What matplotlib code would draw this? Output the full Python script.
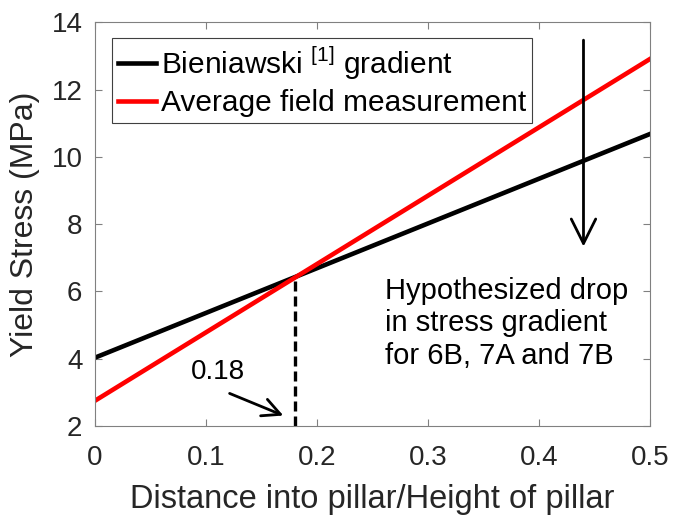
import numpy as np
import matplotlib
matplotlib.use("Agg")
import matplotlib.pyplot as plt

plt.rcParams['font.family'] = ['Liberation Sans', 'DejaVu Sans']
plt.rcParams['mathtext.fontset'] = 'custom'
plt.rcParams['mathtext.rm'] = 'Liberation Sans'

# end points of the two yield stress gradients
x_ends = [0.0, 0.5]
bieniawski = [4.03, 10.68]
field_avg = [2.75, 12.91]
x_cross = 0.18
y_cross = 6.42

fig = plt.figure(figsize=(6.73, 5.17), dpi=100)
ax = fig.add_axes([0.141, 0.176, 0.825, 0.781])

ax.plot(x_ends, bieniawski, color='black', lw=3.3,
        label=r'Bieniawski $^{\mathregular{[1]}}$ gradient')
ax.plot(x_ends, field_avg, color='red', lw=3.3,
        label='Average field measurement')

# dashed drop line at the crossing point
ax.plot([x_cross, x_cross], [2, y_cross], color='black', lw=2.4,
        ls=(0, (3.0, 1.5)))

ax.annotate('', xy=(0.172, 2.28), xytext=(0.119, 3.0),
            arrowprops=dict(arrowstyle='->', lw=2, color='black',
                            mutation_scale=32))
ax.text(0.111, 3.6, '0.18', fontsize=20, ha='center', va='center')

ax.annotate('', xy=(0.44, 7.25), xytext=(0.44, 13.55),
            arrowprops=dict(arrowstyle='->', lw=2, color='black',
                            mutation_scale=44))
ax.text(0.261, 5.05, 'Hypothesized drop\nin stress gradient\nfor 6B, 7A and 7B',
        fontsize=21, ha='left', va='center', linespacing=1.22)

ax.set_xlim(0, 0.5)
ax.set_ylim(2, 14)
ax.set_xticks(np.arange(0, 0.51, 0.1))
ax.set_xticklabels(['0', '0.1', '0.2', '0.3', '0.4', '0.5'])
ax.set_yticks(np.arange(2, 15, 2))
ax.tick_params(direction='in', top=True, right=True, labelsize=20,
               colors='#808080', labelcolor='#262626', length=5)
ax.tick_params(axis='x', pad=14)
ax.tick_params(axis='y', pad=9)
for s in ax.spines.values():
    s.set_color('#808080')
    s.set_linewidth(0.8)

ax.set_xlabel('Distance into pillar/Height of pillar', fontsize=23.5,
              color='#262626', labelpad=9)
ax.set_ylabel('Yield Stress (MPa)', fontsize=23, color='#262626',
              labelpad=8)

leg = ax.legend(loc='upper left', bbox_to_anchor=(0.030, 0.96), fontsize=21.5,
                fancybox=False, framealpha=1, edgecolor='#404040',
                handlelength=1.3, handletextpad=0.15, borderpad=0.2,
                labelspacing=0.25, borderaxespad=0)
leg.get_frame().set_linewidth(0.8)

fig.savefig('out.png', dpi=100)
